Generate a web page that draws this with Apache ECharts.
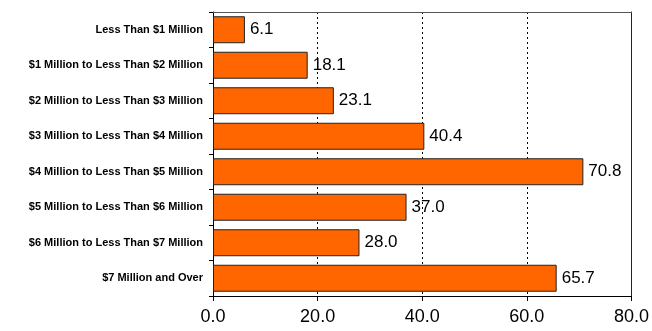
<!DOCTYPE html>
<html>
<head>
<meta charset="utf-8">
<script src="https://cdn.jsdelivr.net/npm/echarts@6/dist/echarts.min.js"></script>
<style>
html, body { margin: 0; padding: 0; background: #fff; }
#chart { width: 652px; height: 331px; }
</style>
</head>
<body>
<div id="chart"></div>
<script>
const categories = [
    'Less Than $1 Million',
    '$1 Million to Less Than $2 Million',
    '$2 Million to Less Than $3 Million',
    '$3 Million to Less Than $4 Million',
    '$4 Million to Less Than $5 Million',
    '$5 Million to Less Than $6 Million',
    '$6 Million to Less Than $7 Million',
    '$7 Million and Over'
];
const values = [6.1, 18.1, 23.1, 40.4, 70.8, 37.0, 28.0, 65.7];

const chart = echarts.init(document.getElementById('chart'));
chart.setOption({
    animation: false,
    backgroundColor: '#fff',
    grid: {
        left: 213,
        right: 20,
        top: 12,
        bottom: 35,
        show: false
    },
    xAxis: [
        {
            type: 'value',
            min: 0,
            max: 80,
            interval: 20,
            axisLine: { show: true, lineStyle: { color: '#000' } },
            axisTick: { show: true, length: 5, lineStyle: { color: '#000' } },
            axisLabel: {
                color: '#000',
                fontFamily: 'Arial, Liberation Sans',
                fontSize: 18,
                margin: 12,
                formatter: v => v.toFixed(1)
            },
            splitLine: {
                show: true,
                lineStyle: { color: ['transparent', '#000', '#000', '#000', 'transparent'], type: [2, 3], width: 1 }
            }
        },
        {
            type: 'value',
            position: 'top',
            min: 0,
            max: 80,
            axisLine: { show: true, onZero: false, lineStyle: { color: '#555' } },
            axisTick: { show: false },
            axisLabel: { show: false },
            splitLine: { show: false }
        }
    ],
    yAxis: [
        {
            type: 'category',
            inverse: true,
            data: categories,
            axisLine: { show: true, lineStyle: { color: '#000' } },
            axisTick: { show: true, length: 4, lineStyle: { color: '#000' } },
            axisLabel: {
                color: '#000',
                fontFamily: 'Arial, Liberation Sans',
                fontWeight: 'bold',
                fontSize: 11,
                margin: 10
            }
        },
        {
            type: 'category',
            position: 'right',
            inverse: true,
            data: categories,
            axisLine: { show: true, onZero: false, lineStyle: { color: '#222' } },
            axisTick: { show: false },
            axisLabel: { show: false }
        }
    ],
    series: [
        {
            type: 'bar',
            data: values,
            barCategoryGap: '24%',
            itemStyle: { color: '#FF6600', borderColor: '#222', borderWidth: 1 },
            label: {
                show: true,
                position: 'right',
                distance: 5,
                color: '#000',
                fontFamily: 'Arial, Liberation Sans',
                fontSize: 17,
                formatter: p => p.value.toFixed(1)
            }
        }
    ]
});
</script>
</body>
</html>
